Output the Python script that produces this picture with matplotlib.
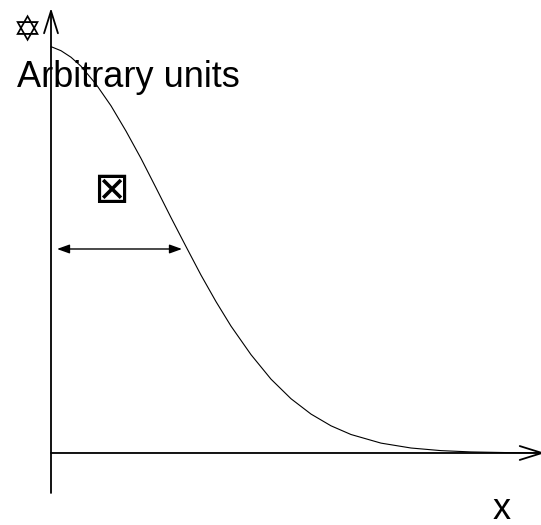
import matplotlib
matplotlib.use("Agg")
import matplotlib.pyplot as plt
from matplotlib.patches import FancyArrowPatch

# Profile samples (position, amplitude in arbitrary units)
profile_x = [0.00, 0.10, 0.20, 0.30, 0.45, 0.60, 0.75, 0.90, 1.05, 1.20,
             1.35, 1.50, 1.65, 1.80, 2.00, 2.20, 2.40, 2.60, 2.80, 3.00,
             3.30, 3.60, 3.90, 4.20, 4.60, 4.90]
profile_y = [0.996, 0.986, 0.970, 0.948, 0.904, 0.851, 0.789, 0.722, 0.650, 0.577,
             0.506, 0.436, 0.371, 0.311, 0.241, 0.181, 0.133, 0.0954, 0.0666, 0.0453,
             0.0242, 0.0122, 0.0058, 0.0026, 0.0008, 0.0003]

# Width marker at half maximum
width_level = 0.5
width_start = 0.06
width_end = 1.31

y_label = "Arbitrary units"
x_label = "x"
star_symbol = "\u2721"
box_symbol = "\u22a0"

fig = plt.figure(figsize=(5.41, 5.25), dpi=100)
ax = fig.add_axes([0, 0, 1, 1])
ax.set_xlim(-0.51, 4.90)
ax.set_ylim(-0.1765, 1.1103)
ax.axis("off")

# Axes drawn as arrows
yaxis = FancyArrowPatch((0, -0.098), (0, 1.0907),
                        arrowstyle="->,head_length=1.6,head_width=0.5",
                        mutation_scale=10, lw=1.3, color="black",
                        shrinkA=0, shrinkB=0)
ax.add_patch(yaxis)
xaxis = FancyArrowPatch((0, 0), (4.94, 0),
                        arrowstyle="->,head_length=1.6,head_width=0.5",
                        mutation_scale=10, lw=1.3, color="black",
                        shrinkA=0, shrinkB=0, clip_on=False)
ax.add_patch(xaxis)

# Profile curve
ax.plot(profile_x, profile_y, color="black", lw=0.8, solid_capstyle="round")

# Half-width arrow
hw = FancyArrowPatch((width_start, width_level), (width_end, width_level),
                     arrowstyle="<|-|>,head_length=0.75,head_width=0.27",
                     mutation_scale=10, lw=1.0, color="black",
                     shrinkA=0, shrinkB=0)
ax.add_patch(hw)

# Labels and symbols
ax.text(-0.235, 1.035, star_symbol, fontsize=25, family="DejaVu Sans",
        ha="center", va="center")
ax.text(-0.34, 0.897, y_label, fontsize=26, family="Liberation Sans",
        ha="left", va="baseline")
ax.text(0.60, 0.645, box_symbol, fontsize=31, family="DejaVu Sans",
        ha="center", va="center")
ax.text(4.51, -0.162, x_label, fontsize=26, family="Liberation Sans",
        ha="center", va="baseline")

fig.savefig("out.png", dpi=100)
